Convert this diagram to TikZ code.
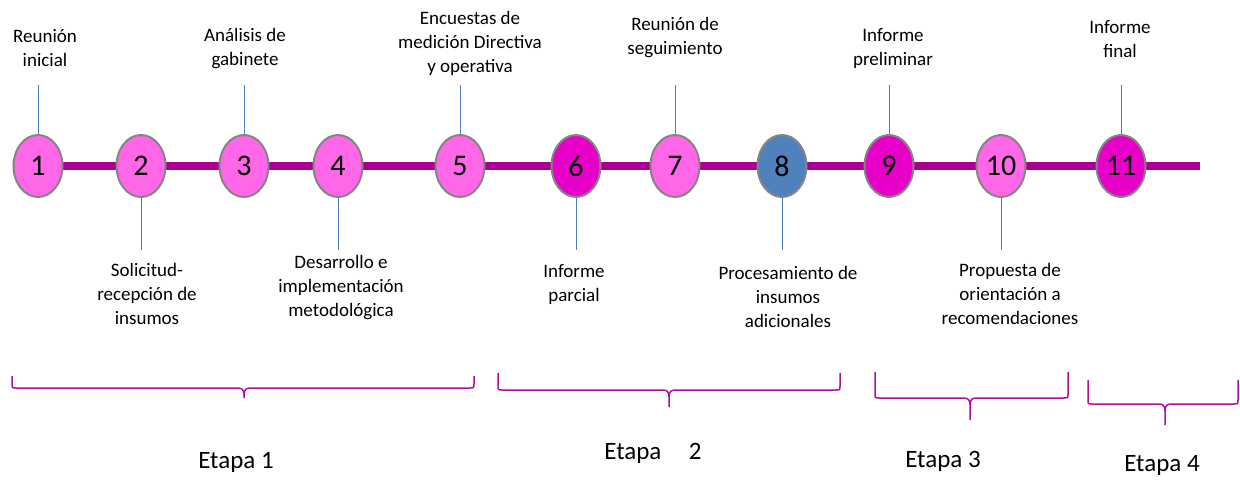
\documentclass[tikz,border=0pt]{standalone}
\usepackage{fontspec}
\setmainfont{Carlito}
\usetikzlibrary{shapes.geometric,backgrounds}
\definecolor{lpink}{HTML}{FF66E8}
\definecolor{dpink}{HTML}{E600C8}
\definecolor{nblue}{HTML}{4F81BD}
\definecolor{tline}{HTML}{A8008E}
\definecolor{brc}{HTML}{B0109E}
\definecolor{cborder}{HTML}{858585}
\tikzset{
  stepnode/.style={ellipse, draw=cborder, line width=2pt, minimum width=49pt, minimum height=62pt, inner sep=0pt, font=\fontsize{30}{32}\selectfont},
  lp/.style={stepnode, fill=lpink},
  dp/.style={stepnode, fill=dpink},
  bp/.style={stepnode, fill=nblue},
  lbl/.style={align=center, font=\fontsize{19}{24}\selectfont, inner sep=0pt},
  conn/.style={nblue, line width=1pt},
  brace/.style={brc, line width=1.5pt, line join=round},
  etapa/.style={font=\fontsize{25}{28}\selectfont, inner sep=0pt}
}
\newcommand{\mybrace}[6]{% x1 x2 top line tipx tipbottom
  \draw[brace] (#1,#3) -- (#1,#4-4) .. controls (#1,#4) .. (#1+4,#4) -- (#5-6,#4)
    .. controls (#5-2,#4) and (#5,#4+2) .. (#5,#4+7) -- (#5,#6);
  \draw[brace] (#2,#3) -- (#2,#4-4) .. controls (#2,#4) .. (#2-4,#4) -- (#5+6,#4)
    .. controls (#5+2,#4) and (#5,#4+2) .. (#5,#4+7);
}
\begin{document}
\begin{tikzpicture}[x=1pt,y=-1pt]
\useasboundingbox (0,0) rectangle (1240,481);
% nodes
\node[lp] (n1) at (38,166) {1};
\node[lp] (n2) at (141,166) {2};
\node[lp] (n3) at (244,166) {3};
\node[lp] (n4) at (338,166) {4};
\node[lp] (n5) at (460,166) {5};
\node[dp] (n6) at (576,166) {6};
\node[lp] (n7) at (675,166) {7};
\node[bp] (n8) at (782,166) {8};
\node[dp] (n9) at (889,166) {9};
\node[lp] (n10) at (1001,166) {10};
\node[dp] (n11) at (1121,166) {11};
\coordinate (tend) at (1200,166);
\begin{scope}[on background layer]
\draw[tline, line width=8pt] (n1.center) -- (tend);
\end{scope}
% top labels
\node[lbl] (l1) at (45,48.5) {Reunión\\inicial};
\node[lbl] (l3) at (245,48.5) {Análisis de\\gabinete};
\node[lbl] (l5) at (470,43.5) {Encuestas de\\medición Directiva\\y operativa};
\node[lbl] (l7) at (675,37.5) {Reunión de\\seguimiento};
\node[lbl] (l9) at (893,48.5) {Informe\\preliminar};
\node[lbl] (l11) at (1120,39.5) {Informe\\final};
% bottom labels
\node[lbl] (l2) at (147,294) {Solicitud-\\recepción de\\insumos};
\node[lbl] (l4) at (341,288) {Desarrollo e\\implementación\\metodológica};
\node[lbl] (l6) at (574,284.5) {Informe\\parcial};
\node[lbl] (l8) at (788,296.5) {Procesamiento de\\insumos\\adicionales};
\node[lbl] (l10) at (1010,294) {Propuesta de\\orientación a\\recomendaciones};
% connector ends
\coordinate (c1) at (38,85);
\coordinate (c3) at (244,85);
\coordinate (c5) at (460,85);
\coordinate (c7) at (675,85);
\coordinate (c9) at (889,85);
\coordinate (c11) at (1121,85);
\coordinate (c2) at (141,250);
\coordinate (c4) at (338,250);
\coordinate (c6) at (576,250);
\coordinate (c8) at (782,250);
\coordinate (c10) at (1001,250);
\foreach \i in {1,3,5,7,9,11} {\draw[conn] (c\i) -- (n\i.north);}
\foreach \i in {2,4,6,8,10} {\draw[conn] (n\i.south) -- (c\i);}
% braces
\mybrace{12}{474}{376}{388}{244}{398}
\mybrace{498}{840}{373}{390}{669}{407}
\mybrace{875}{1068}{372}{398}{970}{420}
\mybrace{1088}{1238}{380}{404}{1165}{425}
% stage labels
\node[etapa] (e1) at (236,462) {Etapa 1};
\node[etapa] (e2) at (653,453) {Etapa\hspace{1.1em}2};
\node[etapa] (e3) at (943,461) {Etapa 3};
\node[etapa] (e4) at (1162,465) {Etapa 4};
\end{tikzpicture}
\end{document}
